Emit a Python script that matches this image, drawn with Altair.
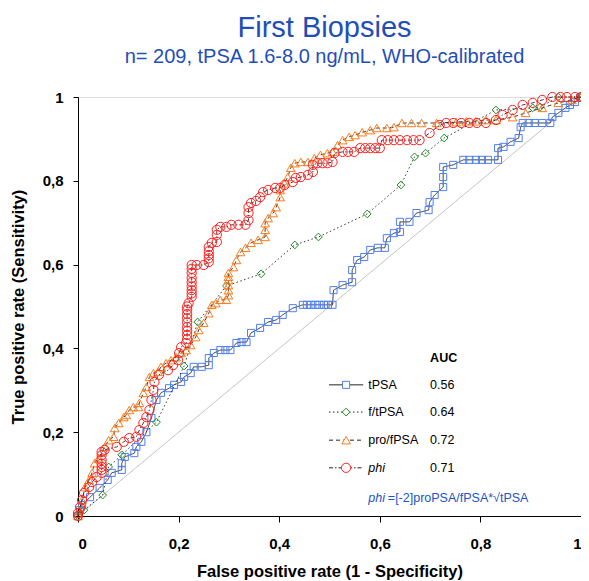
import altair as alt
import pandas as pd

# ---------------- data ----------------
series_names = ["tPSA", "f/tPSA", "pro/fPSA", "phi"]
auc_values = ["0.56", "0.64", "0.72", "0.71"]

tpsa_points = [
    (0, 0), (.004, .014), (.008, .026), (.024, .045), (.043, .067), (.059, .086),
    (.067, .103), (.087, .110), (.087, .126), (.093, .141), (.112, .150), (.116, .165),
    (.126, .177), (.136, .200), (.146, .234), (.156, .277), (.165, .294), (.181, .305),
    (.191, .313), (.205, .320), (.211, .332), (.224, .341), (.230, .356), (.246, .356),
    (.260, .360), (.260, .377), (.270, .389), (.283, .396), (.293, .396), (.303, .396),
    (.315, .413), (.325, .415), (.335, .415), (.344, .437), (.362, .449), (.378, .463),
    (.394, .468), (.407, .480), (.427, .496), (.447, .504), (.455, .504), (.463, .504),
    (.472, .504), (.480, .504), (.489, .504), (.497, .504), (.506, .504), (.508, .539),
    (.526, .551), (.545, .558), (.545, .587), (.555, .611), (.569, .618), (.581, .635),
    (.596, .640), (.610, .640), (.614, .663), (.628, .675), (.640, .678), (.640, .702),
    (.659, .702), (.673, .723), (.697, .730), (.699, .749), (.709, .766), (.726, .785),
    (.726, .809), (.726, .833), (.746, .838), (.766, .850), (.778, .850), (.791, .850),
    (.803, .850), (.815, .850), (.835, .850), (.835, .878), (.846, .881), (.860, .893),
    (.876, .902), (.880, .928), (.884, .938), (.896, .938), (.908, .938), (.923, .938),
    (.939, .938), (.943, .952), (.955, .962), (.969, .974), (.978, .981), (.988, .988),
    (.998, .998), (1, 1),
]

ftpsa_points = [
    (0, 0), (.012, .014), (.049, .050), (.061, .117), (.087, .146), (.156, .224),
    (.211, .358), (.238, .463), (.295, .549), (.364, .578), (.431, .647), (.478, .666),
    (.575, .721), (.642, .790), (.669, .857), (.691, .866), (.728, .902), (.831, .969),
    (.904, .974), (.919, .976), (.955, 1), (1, 1),
]

profpsa_points = [
    (0, 0), (.002, .014), (.008, .038), (.014, .069), (.022, .086), (.028, .103),
    (.033, .126), (.041, .138), (.053, .165), (.061, .181), (.071, .189), (.073, .210),
    (.081, .222), (.091, .236), (.096, .241), (.102, .253), (.110, .260), (.120, .260),
    (.122, .270), (.130, .294), (.136, .308), (.142, .332), (.150, .341), (.159, .344),
    (.165, .356), (.175, .365), (.185, .372), (.195, .379), (.205, .389), (.215, .396),
    (.224, .408), (.234, .427), (.240, .444), (.250, .461), (.260, .484), (.266, .504),
    (.274, .508), (.283, .516), (.295, .516), (.299, .527), (.299, .539), (.299, .551),
    (.299, .563), (.299, .571), (.299, .580),
    (.309, .594), (.315, .611), (.323, .630), (.333, .640), (.344, .652), (.358, .659),
    (.372, .666), (.372, .683), (.372, .699), (.378, .711), (.388, .723), (.394, .737),
    (.402, .761), (.402, .778), (.410, .794), (.417, .809), (.423, .831), (.431, .842),
    (.443, .845), (.457, .845), (.470, .854), (.482, .862), (.496, .866), (.506, .869),
    (.516, .885), (.526, .897), (.539, .905), (.551, .909), (.565, .916), (.581, .921),
    (.594, .926), (.614, .926), (.628, .928), (.644, .938), (.663, .938), (.683, .938),
    (.713, .938), (.752, .940), (.772, .942), (.791, .942), (.811, .945), (.831, .945),
    (.864, .952), (.890, .962), (.923, .974), (.955, .986), (.982, .993), (1, 1),
]

phi_points = [
    (0, 0), (0, .007), (.004, .021), (.008, .038), (.012, .055), (.022, .069),
    (.028, .081), (.037, .093), (.047, .103), (.047, .110), (.047, .117), (.047, .125),
    (.047, .134), (.047, .145), (.047, .153),
    (.053, .158), (.077, .165), (.091, .177), (.102, .186), (.116, .189), (.122, .205),
    (.130, .222), (.136, .236), (.142, .253), (.146, .277), (.150, .301), (.152, .320),
    (.161, .337), (.179, .348), (.189, .360), (.199, .372), (.201, .389), (.205, .403),
    (.215, .413), (.217, .422), (.217, .432), (.217, .442), (.217, .451), (.217, .462),
    (.217, .472), (.217, .482), (.217, .492), (.217, .500), (.220, .508),
    (.226, .523), (.226, .531), (.226, .539), (.226, .548), (.226, .558), (.226, .568),
    (.226, .580), (.226, .590), (.226, .599), (.236, .599),
    (.250, .599), (.260, .606), (.260, .615), (.260, .623), (.260, .632), (.260, .642),
    (.266, .652), (.276, .654),
    (.276, .671), (.276, .683), (.283, .690), (.295, .690), (.305, .695), (.319, .695),
    (.333, .695), (.339, .706), (.339, .723), (.339, .737), (.344, .747), (.354, .752),
    (.362, .761), (.368, .773), (.378, .778), (.392, .783), (.402, .783), (.411, .790),
    (.427, .797), (.433, .807), (.443, .809), (.457, .814), (.467, .821), (.467, .838),
    (.476, .842), (.486, .842), (.496, .842), (.506, .845), (.510, .866), (.526, .869),
    (.537, .869), (.549, .869), (.561, .878), (.571, .878), (.581, .878), (.591, .878),
    (.600, .878), (.604, .897), (.616, .897), (.628, .897), (.640, .897), (.654, .897),
    (.667, .897), (.679, .897), (.699, .914), (.719, .933), (.732, .938), (.746, .938),
    (.762, .938), (.778, .938), (.793, .938), (.811, .938), (.831, .945), (.844, .957),
    (.864, .969), (.884, .981), (.904, .986), (.923, .993), (.943, 1), (.959, 1),
    (.972, 1), (.988, 1), (1, 1),
]

diag_fpr = [0, 1]
diag_tpr = [0, 1]

tick_values = [0, 0.2, 0.4, 0.6, 0.8, 1]

# ---------------- styles ----------------
FONT = "Liberation Sans"
styles = {
    "tPSA": dict(shape="square", color="#4f7ff2", size=50, dash=[1, 0]),
    "f/tPSA": dict(shape="diamond", color="#1e8c1e", size=60, dash=[1.5, 2.5]),
    "pro/fPSA": dict(shape="triangle-up", color="#ff7a1a", size=75, dash=[4, 3]),
    "phi": dict(shape="circle", color="#ff2020", size=85, dash=[4, 2, 1.5, 2]),
}
point_sets = [tpsa_points, ftpsa_points, profpsa_points, phi_points]

label_expr = ("datum.value == 0 ? '0' : datum.value == 1 ? '1' : "
              "replace(format(datum.value, '.1f'), '.', ',')")

X = alt.X("fpr:Q", scale=alt.Scale(domain=[0, 1], nice=False, zero=False),
          axis=alt.Axis(values=tick_values, labelExpr=label_expr,
                        title="False positive rate (1 - Specificity)",
                        titleFontSize=16.5, titleFontWeight="bold", titleFont=FONT,
                        titlePadding=12, labelFontSize=15, labelFontWeight="bold",
                        labelFont=FONT, labelPadding=14, tickSize=6, grid=False,
                        domainColor="black", tickColor="black", labelColor="black",
                        titleColor="black"))
Y = alt.Y("tpr:Q", scale=alt.Scale(domain=[0, 1], nice=False, zero=False),
          axis=alt.Axis(values=tick_values, labelExpr=label_expr,
                        title="True positive rate (Sensitivity)",
                        titleFontSize=16.5, titleFontWeight="bold", titleFont=FONT,
                        titlePadding=16, labelFontSize=15, labelFontWeight="bold",
                        labelFont=FONT, labelPadding=10, tickSize=5, grid=False,
                        domainColor="black", tickColor="black", labelColor="black",
                        titleColor="black"))

layers = []

diag_df = pd.DataFrame({"fpr": diag_fpr, "tpr": diag_tpr})
layers.append(alt.Chart(diag_df).mark_line(color="#c4c4c4", strokeWidth=1).encode(x=X, y=Y))

for name, pts in zip(series_names, point_sets):
    st = styles[name]
    df = pd.DataFrame(pts, columns=["fpr", "tpr"])
    df["idx"] = range(len(df))
    layers.append(alt.Chart(df).mark_line(color="#222222", strokeWidth=0.9,
                                           strokeDash=st["dash"]).encode(x=X, y=Y, order="idx:Q"))
    layers.append(alt.Chart(df).mark_point(shape=st["shape"], color=st["color"], size=st["size"],
                                            filled=False, strokeWidth=1, opacity=1)
                  .encode(x=X, y=Y))

# ---------------- custom legend (layout positions in axis units) ----------------
LX0, LX1, LXM, LXT, LXA = 0.499, 0.567, 0.533, 0.577, 0.700
row_y = [0.313, 0.248, 0.181, 0.115]
head_y = 0.377
note_y = 0.043
note_x2 = 0.616


def pos_df(xv, yv, **extra):
    d = {"fpr": [xv], "tpr": [yv]}
    for k, v in extra.items():
        d[k] = [v]
    return pd.DataFrame(d)


layers.append(alt.Chart(pos_df(LXA, head_y, t="AUC"))
              .mark_text(align="left", baseline="middle", font=FONT, fontSize=12.5,
                         fontWeight="bold", color="black")
              .encode(x=X, y=Y, text="t:N"))

for name, auc, yy in zip(series_names, auc_values, row_y):
    st = styles[name]
    layers.append(alt.Chart(pos_df(LX0, yy, fpr2=LX1))
                  .mark_rule(color="#222222", strokeWidth=1, strokeDash=st["dash"])
                  .encode(x=X, x2="fpr2:Q", y=Y))
    layers.append(alt.Chart(pos_df(LXM, yy))
                  .mark_point(shape=st["shape"], size=st["size"], filled=True, fill="white",
                              stroke=st["color"], strokeWidth=1, opacity=1)
                  .encode(x=X, y=Y))
    layers.append(alt.Chart(pos_df(LXT, yy, lab=name))
                  .mark_text(align="left", baseline="middle", font=FONT, fontSize=12.5,
                             fontStyle="italic" if name == "phi" else "normal", color="black")
                  .encode(x=X, y=Y, text="lab:N"))
    layers.append(alt.Chart(pos_df(LXA, yy, auc=auc))
                  .mark_text(align="left", baseline="middle", font=FONT, fontSize=12.5,
                             color="black")
                  .encode(x=X, y=Y, text="auc:N"))

layers.append(alt.Chart(pos_df(LXT, note_y, t="phi"))
              .mark_text(align="left", baseline="middle", font=FONT, fontSize=12.5,
                         fontStyle="italic", color="#2255c4")
              .encode(x=X, y=Y, text="t:N"))
layers.append(alt.Chart(pos_df(note_x2, note_y, t="=[-2]proPSA/fPSA*\u221atPSA"))
              .mark_text(align="left", baseline="middle", font=FONT, fontSize=12.5,
                         color="#2255c4")
              .encode(x=X, y=Y, text="t:N"))

chart = alt.layer(*layers).properties(
    width=503, height=419,
    title=alt.TitleParams(
        text="First Biopsies",
        subtitle="n= 209, tPSA 1.6-8.0 ng/mL, WHO-calibrated",
        font=FONT, fontSize=29, fontWeight="normal", color="#1f4fb6",
        subtitleFont=FONT, subtitleFontSize=20, subtitleColor="#1f4fb6",
        subtitlePadding=4, anchor="middle", offset=23, dx=-5,
    ),
    autosize=alt.AutoSizeParams(type="none"),
    padding={"left": 70, "top": 89, "right": 0, "bottom": 64},
).configure_view(stroke="#7f7f7f", strokeWidth=1.2).configure(background="white")

chart.save("out.html", embed_options={"renderer": "svg", "actions": False})
